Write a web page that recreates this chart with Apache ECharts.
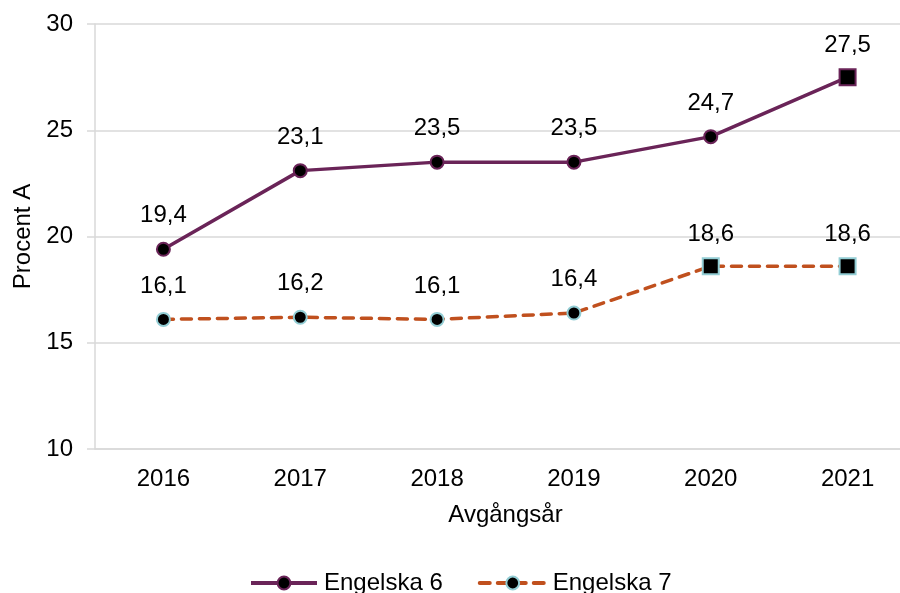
<!DOCTYPE html>
<html lang="sv">
<head>
  <meta charset="UTF-8">
  <title>Procent A</title>
  <script src="https://cdn.jsdelivr.net/npm/echarts@6/dist/echarts.min.js"></script>
  <style>
    html, body, #container { width: 100%; height: 100%; margin: 0; padding: 0; overflow: hidden; background: #fff; }
  </style>
</head>
<body>
  <div id="container"></div>
  <script>
    var years = ['2016', '2017', '2018', '2019', '2020', '2021'];
    var engelska6 = [19.4, 23.1, 23.5, 23.5, 24.7, 27.5];
    var engelska7 = [16.1, 16.2, 16.1, 16.4, 18.6, 18.6];
    // which points are drawn as squares in the reference
    var square6 = [false, false, false, false, false, true];
    var square7 = [false, false, false, false, true, true];

    var font = 'Liberation Sans, Arial, sans-serif';

    function points(values, squares) {
      return values.map(function (v, i) {
        return squares[i]
          ? { value: v, symbol: 'rect', symbolSize: 16, label: { distance: 11 } }
          : v;
      });
    }

    function label() {
      return {
        show: true, position: 'top', distance: 14, color: '#000',
        fontFamily: font, fontSize: 24,
        formatter: function (p) { return String(p.value).replace('.', ','); }
      };
    }

    var chart = echarts.init(document.getElementById('container'), null, { renderer: 'canvas' });
    chart.setOption({
      animation: false,
      // the plot area runs past the right edge of the picture
      grid: { left: 95, width: 821, top: 24, bottom: 144, outerBoundsMode: 'none' },
      legend: {
        top: 566, left: 244, itemWidth: 66, itemHeight: 16, itemGap: 35,
        lineStyle: { width: 4 },
        textStyle: { fontFamily: font, fontSize: 24, color: '#000', padding: [0, 0, 0, 2] },
        data: ['Engelska 6', 'Engelska 7']
      },
      xAxis: {
        type: 'category', data: years,
        name: 'Avgångsår', nameLocation: 'middle', nameGap: 54,
        nameTextStyle: { fontFamily: font, fontSize: 24, color: '#000' },
        axisLine: { lineStyle: { color: '#d9d9d9', width: 1.5 } },
        axisTick: { show: false },
        axisLabel: { fontFamily: font, fontSize: 24, color: '#000', margin: 18 }
      },
      yAxis: {
        type: 'value', min: 10, max: 30, interval: 5,
        name: 'Procent A', nameLocation: 'middle', nameGap: 60, nameRotate: 90,
        nameTextStyle: { fontFamily: font, fontSize: 24, color: '#000' },
        axisLine: { show: true, lineStyle: { color: '#d9d9d9', width: 1.5 } },
        axisTick: { show: true, length: 8, lineStyle: { color: '#d9d9d9', width: 1.5 } },
        splitLine: { lineStyle: { color: '#d9d9d9', width: 1.5 } },
        axisLabel: { fontFamily: font, fontSize: 24, color: '#000', margin: 22 }
      },
      series: [
        {
          name: 'Engelska 6', type: 'line', data: points(engelska6, square6),
          symbol: 'circle', symbolSize: 13,
          lineStyle: { color: '#6a2458', width: 3.5 },
          itemStyle: { color: '#000', borderColor: '#6a2458', borderWidth: 2 },
          label: label()
        },
        {
          name: 'Engelska 7', type: 'line', data: points(engelska7, square7),
          symbol: 'circle', symbolSize: 13,
          lineStyle: { color: '#c0501e', width: 3.5, type: [10, 8], cap: 'round' },
          itemStyle: { color: '#000', borderColor: '#92cdd4', borderWidth: 2 },
          label: label()
        }
      ]
    });
  </script>
</body>
</html>
